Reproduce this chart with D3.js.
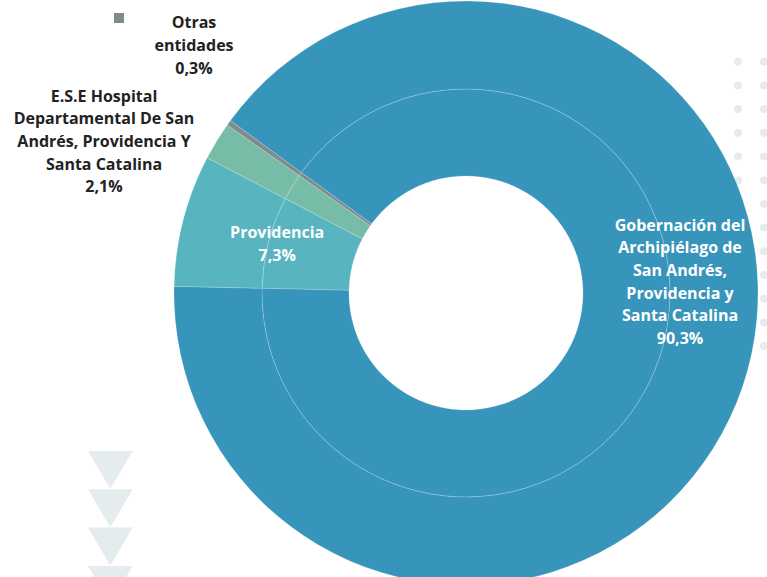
<!DOCTYPE html>
<html><head><meta charset="utf-8">
<script src="https://cdn.jsdelivr.net/npm/d3@7"></script>
<style>body{margin:0;background:#fff}svg{display:block}</style>
</head><body>
<svg id="c" width="767" height="577"></svg>
<script>
const categories = ["Providencia", "E.S.E Hospital Departamental De San Andrés, Providencia Y Santa Catalina", "Otras entidades", "Gobernación del Archipiélago de San Andrés, Providencia y Santa Catalina"];
const values = [7.3, 2.1, 0.3, 90.3];
const valueLabels = ["7,3%", "2,1%", "0,3%", "90,3%"];
const labelLines = [
  ["Providencia"],
  ["E.S.E Hospital", "Departamental De San", "Andrés, Providencia Y", "Santa Catalina"],
  ["Otras", "entidades"],
  ["Gobernación del", "Archipiélago de", "San Andrés,", "Providencia y", "Santa Catalina"]
];
const colors = ["#58b5c0", "#77bca6", "#7f8c8d", "#3795bc"];

const W = 767, H = 577;
const cx = 466, cy = 293, rOuter = 292, rMid = 204, rInner = 117;
const startDeg = 271.3;
const svg = d3.select("#c");
const FONT = "'Open Sans', Lato, sans-serif";

// decorative dots
const dg = svg.append("g");
d3.range(13).forEach(i => {
  [738, 764].forEach(x => {
    dg.append("circle").attr("cx", x).attr("cy", 61.7 + i * 23.7).attr("r", 4).attr("fill", "#e5ecee");
  });
});
// decorative triangles
const tg = svg.append("g");
d3.range(4).forEach(i => {
  const y0 = 451 + i * 38.3;
  tg.append("path").attr("d", `M88,${y0}L132.7,${y0}L110.3,${y0 + 38}Z`).attr("fill", "#e5ecee");
});

const data = categories.map((c, i) => ({ c, v: values[i], i }));
const pie = d3.pie().value(d => d.v).sort(null)
  .startAngle(startDeg * Math.PI / 180).endAngle(startDeg * Math.PI / 180 + 2 * Math.PI);
const arcs = pie(data);
const g = svg.append("g").attr("transform", `translate(${cx},${cy})`);
const arcIn = d3.arc().innerRadius(rInner).outerRadius(rMid);
const arcOut = d3.arc().innerRadius(rMid).outerRadius(rOuter);
[arcIn, arcOut].forEach(a => {
  g.selectAll(null).data(arcs).enter().append("path")
    .attr("d", a).attr("fill", d => colors[d.data.i])
    .attr("stroke", "rgba(255,255,255,0.3)").attr("stroke-width", 0.6);
});

// labels
function block(x, yFirst, lines, fill) {
  const t = svg.append("text").attr("text-anchor", "middle").attr("font-family", FONT)
    .attr("font-weight", 700).attr("font-size", 16).attr("fill", fill);
  lines.forEach((l, k) => t.append("tspan").attr("x", x).attr("y", yFirst + k * 22.6).text(l));
}
// Providencia inside at centroid
const pc = d3.arc().innerRadius(195).outerRadius(195).centroid(arcs[0]);
block(cx + pc[0], cy + pc[1] - 6, [...labelLines[0], valueLabels[0]], "#ffffff");
// Gobernación inside
block(680, 230.7, [...labelLines[3], valueLabels[3]], "#ffffff");
// outside labels
block(104, 101.7, [...labelLines[1], valueLabels[1]], "#222222");
block(194, 28.3, [...labelLines[2], valueLabels[2]], "#222222");
// legend marker
svg.append("rect").attr("x", 114).attr("y", 13).attr("width", 10).attr("height", 10).attr("fill", colors[2]);
</script>
</body></html>
